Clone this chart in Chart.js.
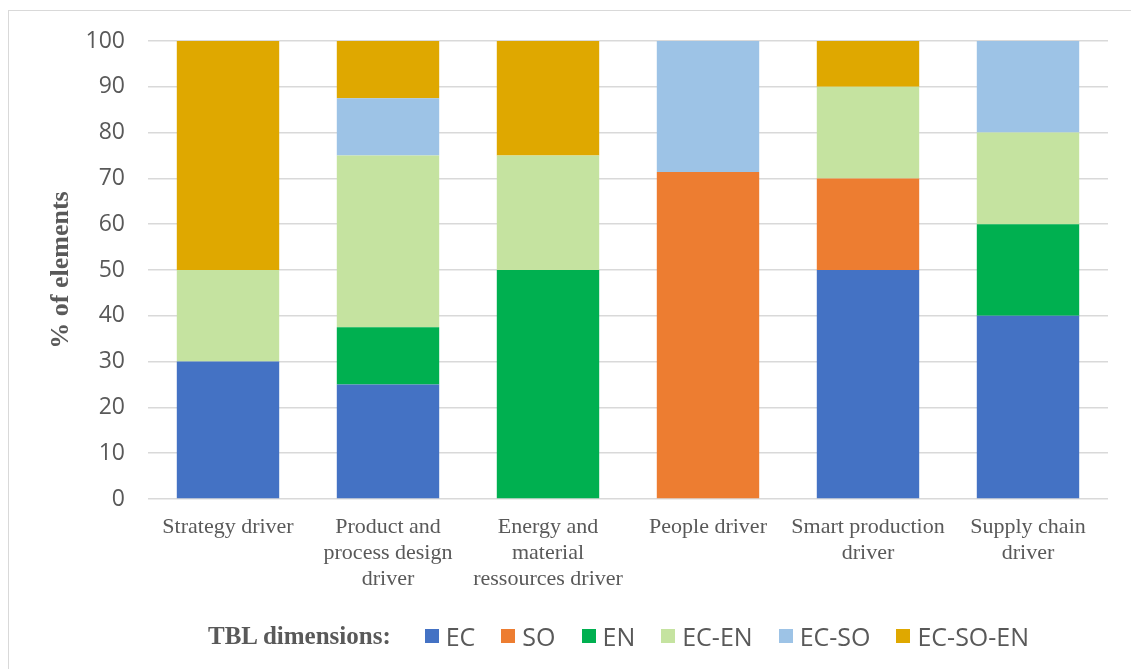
<!DOCTYPE html>
<html>
<head>
<meta charset="utf-8">
<script src="https://cdn.jsdelivr.net/npm/chart.js@4.4.0/dist/chart.umd.min.js"></script>
<style>
  html, body { margin: 0; padding: 0; background: #fff; }
  #wrap { position: relative; width: 1131px; height: 669px; overflow: hidden; }
  #frame { position: absolute; left: 8px; top: 10px; width: 1140px; height: 700px;
           border-left: 1.5px solid #d9d9d9; border-top: 1.5px solid #d9d9d9; }
  #grafico { position: absolute; left: 0; top: 0; }
  #leyenda { position: absolute; left: 208px; top: 622px; height: 28px; display: flex;
             align-items: center; white-space: nowrap; color: #595959;
             font-family: "Open Sans", sans-serif; font-size: 25px; }
  #leyenda .titulo { font-family: "Liberation Serif", serif; font-weight: bold; font-size: 25px; margin-right: 34px; }
  #leyenda .item { display: flex; align-items: center; margin-right: 26px; }
  #leyenda .caja { width: 14px; height: 14px; margin-right: 7px; }
</style>
</head>
<body>
<div id="wrap">
  <div id="frame"></div>
  <canvas id="grafico" width="1131" height="669"></canvas>
  <div id="leyenda"></div>
</div>
<script>
// categorias del eje x (multilinea)
const categorias = [
    ["Strategy driver"],
    ["Product and", "process design", "driver"],
    ["Energy and", "material", "ressources driver"],
    ["People driver"],
    ["Smart production", "driver"],
    ["Supply chain", "driver"]
];

const series = ["EC", "SO", "EN", "EC-EN", "EC-SO", "EC-SO-EN"];
const colores = ["#4472C4", "#ED7D31", "#00B050", "#C5E3A0", "#9DC3E6", "#DFA800"];

// % de elementos por driver
const valoresEC     = [30, 25,   0,  0,    50, 40];
const valoresSO     = [0,  0,    0,  71.4, 20, 0];
const valoresEN     = [0,  12.5, 50, 0,    0,  20];
const valoresECEN   = [20, 37.5, 25, 0,    20, 20];
const valoresECSO   = [0,  12.5, 0,  28.6, 0,  20];
const valoresECSOEN = [50, 12.5, 25, 0,    10, 0];

const ejeY = { min: 0, max: 100, paso: 10 };
const tituloY = "% of elements";
const tituloLeyenda = "TBL dimensions:";

const valores = [valoresEC, valoresSO, valoresEN, valoresECEN, valoresECSO, valoresECSOEN];

const gris = "#595959";
const linea = "#d9d9d9";

const chart = new Chart(document.getElementById("grafico").getContext("2d"), {
    type: "bar",
    data: {
        labels: categorias,
        datasets: series.map((s, i) => ({
            label: s,
            data: valores[i],
            backgroundColor: colores[i],
            borderWidth: 0,
            barPercentage: 0.64,
            categoryPercentage: 1
        }))
    },
    options: {
        responsive: false,
        animation: false,
        layout: { padding: { left: 10, right: 23, top: 41, bottom: 0 } },
        plugins: {
            legend: { display: false },
            tooltip: { enabled: false }
        },
        scales: {
            x: {
                stacked: true,
                grid: { display: false, drawTicks: false },
                border: { display: false },
                ticks: {
                    color: gris,
                    padding: 15,
                    maxRotation: 0,
                    autoSkip: false,
                    font: { family: "'Liberation Serif', serif", size: 22, lineHeight: 26 / 22 }
                },
                afterFit: (s) => { s.height = 170; }
            },
            y: {
                stacked: true,
                min: ejeY.min,
                max: ejeY.max,
                grid: { color: linea, lineWidth: 1.5, drawTicks: false },
                border: { display: false },
                ticks: {
                    stepSize: ejeY.paso,
                    color: gris,
                    padding: 23,
                    font: { family: "'Open Sans', sans-serif", size: 23 }
                },
                title: {
                    display: true,
                    text: tituloY,
                    color: gris,
                    padding: { top: 36, bottom: 0 },
                    font: { family: "'Liberation Serif', serif", size: 26, weight: "bold", lineHeight: 1.2 }
                },
                afterFit: (s) => { s.width = 138; }
            }
        }
    }
});

// leyenda con titulo a la izquierda
const ley = document.getElementById("leyenda");
let html = `<span class="titulo">${tituloLeyenda}</span>`;
chart.data.datasets.forEach(ds => {
    html += `<span class="item"><span class="caja" style="background:${ds.backgroundColor}"></span>${ds.label}</span>`;
});
ley.innerHTML = html;
</script>
</body>
</html>
